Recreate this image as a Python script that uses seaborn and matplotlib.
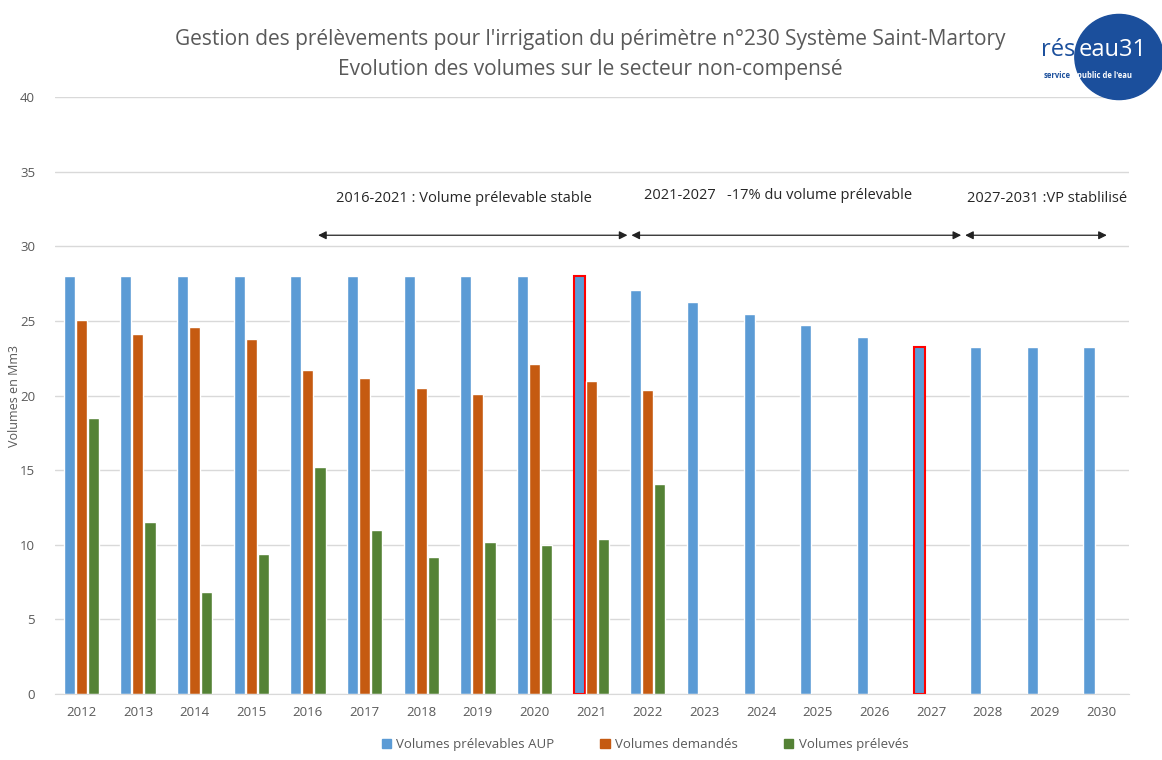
import pandas as pd
import matplotlib.pyplot as plt
import seaborn as sns
from matplotlib.patches import Ellipse

# Data
years = [str(y) for y in range(2012, 2031)]
vol_prelevables = [28, 28, 28, 28, 28, 28, 28, 28, 28, 28,
                   27.1, 26.3, 25.5, 24.7, 23.9, 23.25, 23.25, 23.25, 23.25]
vol_demandes = [25.1, 24.1, 24.6, 23.8, 21.7, 21.2, 20.5, 20.1, 22.1, 21.0, 20.4]
vol_preleves = [18.5, 11.5, 6.85, 9.4, 15.2, 11.0, 9.2, 10.2, 9.95, 10.4, 14.1]

series_names = ['Volumes prélevables AUP', 'Volumes demandés', 'Volumes prélevés']
colors = ['#5B9BD5', '#C55A11', '#548235']

# Periods shown with arrows above the bars
period_labels = ['2016-2021 : Volume prélevable stable',
                 '2021-2027   -17% du volume prélevable',
                 '2027-2031 :VP stablilisé']
period_start = [4.18, 9.71, 15.6]
period_end = [9.64, 15.53, 18.1]
highlight_years = ['2021', '2027']

# Build long table for seaborn
rows = []
for i, y in enumerate(years):
    rows.append((y, series_names[0], vol_prelevables[i]))
    rows.append((y, series_names[1], vol_demandes[i] if i < len(vol_demandes) else float('nan')))
    rows.append((y, series_names[2], vol_preleves[i] if i < len(vol_preleves) else float('nan')))
df = pd.DataFrame(rows, columns=['annee', 'serie', 'volume'])

sns.set_style('white')
plt.rcParams['font.family'] = ['Open Sans', 'DejaVu Sans']

fig = plt.figure(figsize=(11.62, 7.6), dpi=100)
ax = fig.add_axes([0.047, 0.087, 0.925, 0.785])

sns.barplot(data=df, x='annee', y='volume', hue='serie', hue_order=series_names,
            palette=colors, width=0.64, gap=0.08, saturation=1, ax=ax, legend=False)

# red outline on highlighted years
for idx, y in enumerate(years):
    if y in highlight_years:
        p = ax.containers[0].patches[idx]
        p.set_edgecolor('#FF0000')
        p.set_linewidth(1.5)

ax.set_ylim(0, 40)
ax.set_xlim(-0.47, 18.5)
ax.set_yticks(range(0, 41, 5))
ax.yaxis.grid(True, color='#D9D9D9', linewidth=1)
ax.set_axisbelow(True)
for s in ['top', 'right', 'left']:
    ax.spines[s].set_visible(False)
ax.spines['bottom'].set_color('#D9D9D9')
ax.tick_params(axis='both', length=0, labelcolor='#595959', labelsize=9.5)
ax.tick_params(axis='x', pad=9)
ax.tick_params(axis='y', pad=14)
ax.set_xlabel('')
ax.set_ylabel('Volumes en Mm3', color='#595959', fontsize=9)
ax.yaxis.set_label_coords(-0.031, 0.5)

# period arrows and labels
for lab, x1, x2 in zip(period_labels, period_start, period_end):
    ax.annotate('', xy=(x2, 30.75), xytext=(x1, 30.75),
                arrowprops=dict(arrowstyle='<|-|>', color='#222222', lw=0.9,
                                mutation_scale=12, shrinkA=0, shrinkB=0))
ax.text(6.75, 33.2, period_labels[0], ha='center', va='center', fontsize=10.5, color='#262626')
ax.text(12.3, 33.4, period_labels[1], ha='center', va='center', fontsize=10.5, color='#262626')
ax.text(17.05, 33.2, period_labels[2], ha='center', va='center', fontsize=10.5, color='#262626')

fig.text(0.508, 0.948, "Gestion des prélèvements pour l'irrigation du périmètre n°230 Système Saint-Martory",
         ha='center', va='center', fontsize=15, color='#595959')
fig.text(0.508, 0.908, 'Evolution des volumes sur le secteur non-compensé',
         ha='center', va='center', fontsize=15, color='#595959')

# logo
logo = Ellipse((0.963, 0.925), 0.076, 0.112, transform=fig.transFigure,
               color='#1B4F9C', zorder=5)
fig.patches.append(logo)
fig.text(0.896, 0.934, 'rés', fontsize=17, color='#1B4F9C', ha='left', va='center', zorder=6)
fig.text(0.928, 0.934, 'eau31', fontsize=17, color='white', ha='left', va='center', zorder=6)
fig.text(0.898, 0.900, "service", fontsize=5.5, color='#1B4F9C',
         ha='left', va='center', zorder=6, fontweight='bold')
fig.text(0.927, 0.900, "public de l'eau", fontsize=5.5, color='white',
         ha='left', va='center', zorder=6, fontweight='bold')

# legend
handles = [plt.Rectangle((0, 0), 1, 1, color=c) for c in colors]
fig.legend(handles, series_names, loc='center', bbox_to_anchor=(0.555, 0.02), ncol=3,
           frameon=False, fontsize=9.5, labelcolor='#595959', handlelength=0.7,
           handleheight=0.7, columnspacing=3.5, handletextpad=0.4)

fig.savefig('out.png', dpi=100)
